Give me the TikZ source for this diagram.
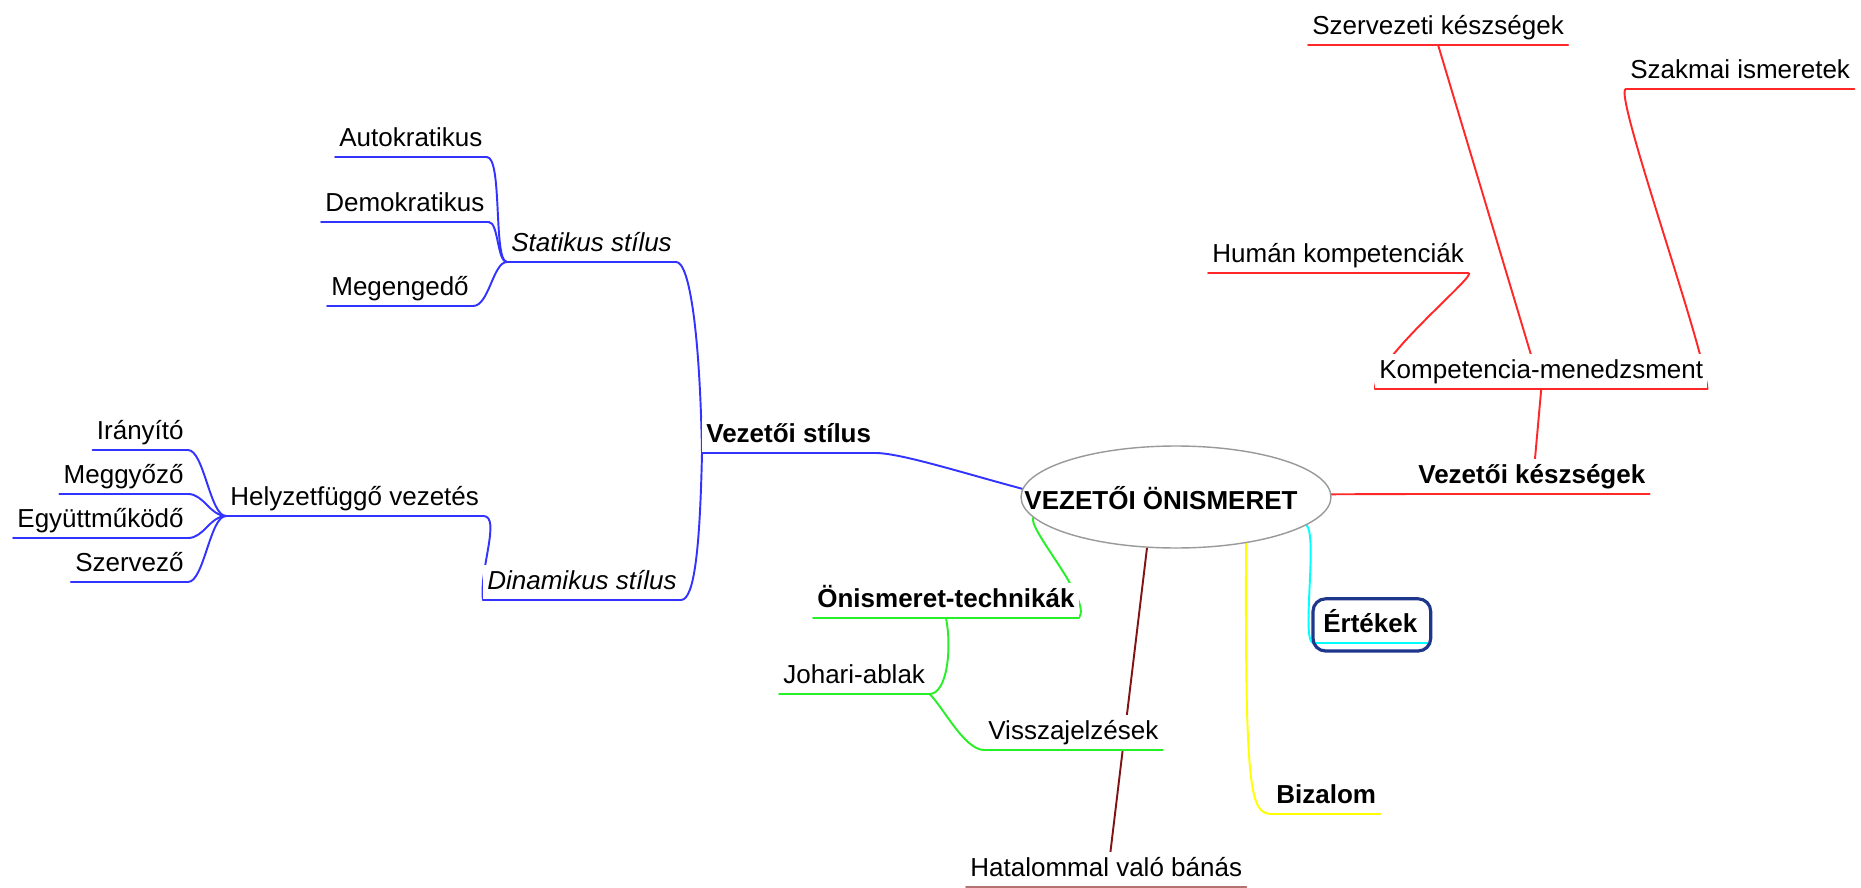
\documentclass[tikz,border=0pt]{standalone}
\usepackage{fontspec}
\setmainfont{Liberation Sans}
\usetikzlibrary{shapes.geometric,backgrounds}

\definecolor{mapblue}{RGB}{51,51,255}
\definecolor{mapred}{RGB}{255,40,40}
\definecolor{mapgreen}{RGB}{40,240,40}
\definecolor{mapbrown}{RGB}{128,20,20}
\definecolor{mapyellow}{RGB}{255,255,0}
\definecolor{mapcyan}{RGB}{0,255,255}
\definecolor{mapnavy}{RGB}{30,55,140}

\tikzset{
  topic/.style={font=\fontsize{14.8}{17}\selectfont, fill=white, inner xsep=0.08cm,
    inner ysep=0.1cm, text height=0.38cm, text depth=0.11cm, anchor=south west},
  bigtopic/.style={topic, font=\fontsize{14.8}{17}\selectfont\bfseries},
  slanttopic/.style={topic, font=\fontsize{14.8}{17}\selectfont\itshape},
  link/.style={line width=1.1pt, line cap=round},
}

\begin{document}
\begin{tikzpicture}[x=0.02cm,y=-0.02cm]
\useasboundingbox (0,0) rectangle (1861,888);

%% Central topic
\node[draw=gray!80, line width=0.8pt, ellipse, fill=white, inner sep=0pt, outer sep=0pt,
      minimum width=6.2cm, minimum height=2.04cm] (core) at (1176,497) {};
\node[font=\fontsize{14.8}{17}\selectfont\bfseries, anchor=base] (coretext) at (1161,509) {VEZETŐI ÖNISMERET};

%% Vezetői stílus branch
\node[slanttopic] (stat) at (507,262) {Statikus stílus};
\node[topic] (auto) at (335,157) {Autokratikus};
\node[topic] (demo) at (321,222) {Demokratikus};
\node[topic] (megen) at (327,306) {Megengedő};
\node[slanttopic] (dinam) at (483,600) {Dinamikus stílus};
\node[bigtopic] (vstil) at (702,453) {Vezetői stílus};
\node[topic] (helyz) at (226,516) {Helyzetfüggő vezetés};
\node[topic, anchor=south east] (iran) at (188,450) {Irányító};
\node[topic, anchor=south east] (meggy) at (188,494) {Meggyőző};
\node[topic, anchor=south east] (egyutt) at (188,538) {Együttműködő};
\node[topic, anchor=south east] (szerv) at (188,582) {Szervező};

%% Vezetői készségek branch
\node[bigtopic] (vkesz) at (1414,494) {Vezetői készségek};
\node[topic] (komp) at (1375,389) {Kompetencia-menedzsment};
\node[topic] (human) at (1208,273) {Humán kompetenciák};
\node[topic] (szkesz) at (1308,45) {Szervezeti készségek};
\node[topic] (szakm) at (1626,89) {Szakmai ismeretek};

%% Önismeret branch
\node[bigtopic] (onism) at (813,618) {Önismeret-technikák};
\node[topic] (johari) at (779,694) {Johari-ablak};
\node[topic] (vissza) at (984,750) {Visszajelzések};

%% Other branches
\node[topic] (hatal) at (966,887) {Hatalommal való bánás};
\node[bigtopic] (bizal) at (1272,814) {Bizalom};
\node[bigtopic, inner xsep=0.2cm] (ertek) at (1313,643) {Értékek};

%% Connectors (behind the texts)
\begin{pgfonlayer}{background}
\draw[link, mapblue] (auto.south east) .. controls +(16,0) and +(-14,0) .. (stat.south west);
\draw[link, mapblue] (demo.south east) .. controls +(10,0) and +(-10,0) .. (stat.south west);
\draw[link, mapblue] (megen.south east) .. controls +(16,0) and +(-14,0) .. (stat.south west);
\draw[link, mapblue] (stat.south east) .. controls +(14,0) and +(-2,-115) .. (vstil.south west);
\draw[link, mapblue] (dinam.south east) .. controls +(14,0) and +(-2,90) .. (vstil.south west);
\draw[link, mapblue] (vstil.south east) .. controls +(25,0) and +(-60,-16) .. (core.177);
\draw[link, mapblue] (helyz.south east) .. controls +(18,0) and +(-4,-30) .. (dinam.south west);
\foreach \n in {iran,meggy,egyutt,szerv}
  \draw[link, mapblue] (\n.south east) .. controls +(16,0) and +(-16,0) .. (helyz.south west);

\draw[link, mapred] (core.1) -- (vkesz.south west);
\draw[link, mapred] (vkesz.south) -- (komp.south);
\draw[link, mapred] (human.south east) .. controls +(12,0) and +(-2,-30) .. (komp.south west);
\draw[link, mapred] (szkesz.south) -- (komp.south);
\draw[link, mapred] (szakm.south west) .. controls +(-14,0) and +(-4,-45) .. (komp.south east);

\draw[link, mapgreen] (core.188) .. controls +(-8,10) and +(14,-18) .. (onism.south east);
\draw[link, mapgreen] (onism.south) .. controls +(6,30) and +(18,0) .. (johari.south east);
\draw[link, mapgreen] (johari.south east) .. controls +(12,10) and +(-20,0) .. (vissza.south west);

\draw[link, mapbrown] (core.240) -- (hatal.south);
\draw[link, mapyellow] (core.327) .. controls +(-1,250) and +(-22,0) .. (bizal.south west);
\draw[link, mapcyan] (core.348) .. controls +(12,10) and +(-12,-2) .. (ertek.south west);
\end{pgfonlayer}

%% Underlines
\foreach \n in {auto,demo,megen,stat,dinam,vstil,helyz,iran,meggy,egyutt,szerv}
  \draw[link, mapblue] (\n.south west) -- (\n.south east);
\foreach \n in {vkesz,komp,human,szkesz,szakm}
  \draw[link, mapred] (\n.south west) -- (\n.south east);
\foreach \n in {onism,johari,vissza}
  \draw[link, mapgreen] (\n.south west) -- (\n.south east);
\draw[link, mapbrown!60] (hatal.south west) -- (hatal.south east);
\draw[link, mapyellow] (bizal.south west) -- (bizal.south east);
\draw[link, mapcyan] (ertek.south west) -- (ertek.south east);

%% Frame of Értékek
\draw[mapnavy, line width=1.8pt, rounded corners=0.25cm]
  ([yshift=-0.16cm]ertek.south west) rectangle ([xshift=0.06cm,yshift=0.18cm]ertek.north east);
\end{tikzpicture}
\end{document}
